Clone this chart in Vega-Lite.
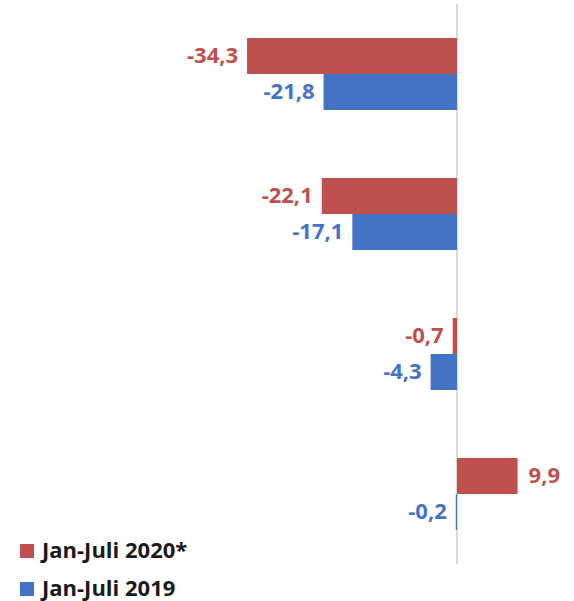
{
  "$schema": "https://vega.github.io/schema/vega-lite/v6.json",
  "width": 574,
  "height": 560,
  "padding": {"left": 0, "right": 0, "top": 4, "bottom": 37},
  "autosize": {"type": "none"},
  "background": "white",
  "config": {"view": {"stroke": null}},
  "data": {
    "values": [
      {"cat": "1", "series": "Jan-Juli 2020*", "value": -34.3, "label": "-34,3"},
      {"cat": "1", "series": "Jan-Juli 2019", "value": -21.8, "label": "-21,8"},
      {"cat": "2", "series": "Jan-Juli 2020*", "value": -22.1, "label": "-22,1"},
      {"cat": "2", "series": "Jan-Juli 2019", "value": -17.1, "label": "-17,1"},
      {"cat": "3", "series": "Jan-Juli 2020*", "value": -0.7, "label": "-0,7"},
      {"cat": "3", "series": "Jan-Juli 2019", "value": -4.3, "label": "-4,3"},
      {"cat": "4", "series": "Jan-Juli 2020*", "value": 9.9, "label": "9,9"},
      {"cat": "4", "series": "Jan-Juli 2019", "value": -0.2, "label": "-0,2"}
    ]
  },
  "layer": [
    {
      "transform": [{"filter": "datum.cat === '1' && datum.series === 'Jan-Juli 2019'"}],
      "mark": {"type": "rule", "color": "#d9d9d9", "strokeWidth": 2},
      "encoding": {
        "x": {"datum": 0, "type": "quantitative", "scale": {"domain": [-74.67, 19.12], "nice": false, "zero": false}, "axis": null}
      }
    },
    {
      "mark": {"type": "bar", "orient": "horizontal"},
      "encoding": {
        "y": {"field": "cat", "type": "nominal", "axis": null, "scale": {"paddingInner": 0.486, "paddingOuter": 0.243}},
        "yOffset": {"field": "series", "type": "nominal", "sort": ["Jan-Juli 2020*", "Jan-Juli 2019"], "scale": {"paddingInner": 0, "paddingOuter": 0}},
        "x": {"field": "value", "type": "quantitative", "scale": {"domain": [-74.67, 19.12], "nice": false, "zero": false}, "axis": null},
        "color": {
          "field": "series",
          "type": "nominal",
          "scale": {"domain": ["Jan-Juli 2020*", "Jan-Juli 2019"], "range": ["#c0504d", "#4472c4"]},
          "legend": {
            "title": null,
            "orient": "none",
            "legendX": 16,
            "legendY": 536,
            "direction": "vertical",
            "symbolType": "square",
            "symbolSize": 196,
            "symbolStrokeWidth": 0,
            "labelFont": "Open Sans",
            "labelFontSize": 22,
            "labelFontWeight": "bold",
            "labelColor": "#1a1a1a",
            "labelOffset": 4,
            "rowPadding": 16,
            "labelLimit": 400,
            "padding": 0
          }
        }
      }
    },
    {
      "transform": [{"filter": "datum.value < 0"}],
      "mark": {"type": "text", "align": "right", "baseline": "middle", "dx": -9, "font": "Open Sans", "fontSize": 22, "fontWeight": "bold"},
      "encoding": {
        "y": {"field": "cat", "type": "nominal", "axis": null},
        "yOffset": {"field": "series", "type": "nominal", "sort": ["Jan-Juli 2020*", "Jan-Juli 2019"]},
        "x": {"field": "value", "type": "quantitative"},
        "text": {"field": "label"},
        "color": {"condition": {"test": "datum.series === 'Jan-Juli 2019'", "value": "#4472c4"}, "value": "#c0504d"}
      }
    },
    {
      "transform": [{"filter": "datum.value >= 0"}],
      "mark": {"type": "text", "align": "left", "baseline": "middle", "dx": 11, "font": "Open Sans", "fontSize": 22, "fontWeight": "bold"},
      "encoding": {
        "y": {"field": "cat", "type": "nominal", "axis": null},
        "yOffset": {"field": "series", "type": "nominal", "sort": ["Jan-Juli 2020*", "Jan-Juli 2019"]},
        "x": {"field": "value", "type": "quantitative"},
        "text": {"field": "label"},
        "color": {"condition": {"test": "datum.series === 'Jan-Juli 2019'", "value": "#4472c4"}, "value": "#c0504d"}
      }
    }
  ]
}
